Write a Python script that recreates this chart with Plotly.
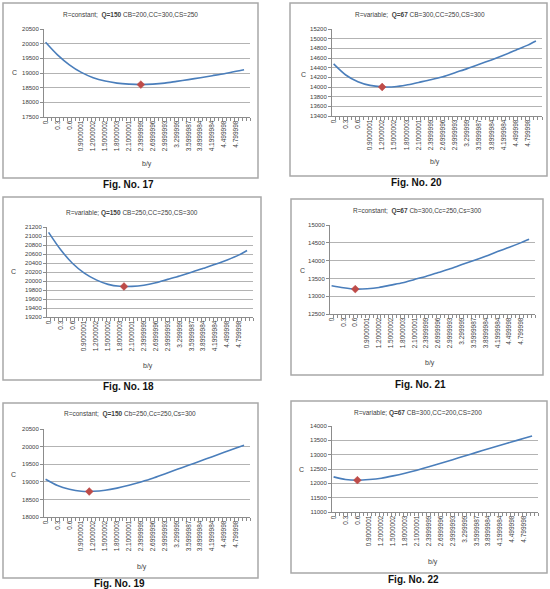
import plotly.graph_objects as go

W, H = 550, 589

# ---------------- data ----------------
b_over_y = [0, 0.3, 0.6, 0.9, 1.2, 1.5, 1.8, 2.1, 2.4, 2.7, 3.0, 3.3, 3.6, 3.9, 4.2, 4.5, 4.8, 5.0]

c_fig17 = [20050, 19620, 19280, 19020, 18840, 18725, 18655, 18620, 18605, 18620, 18655, 18715, 18775, 18840, 18908, 18977, 19057, 19114]
c_fig20 = [14477, 14248, 14109, 14033, 14005, 14005, 14040, 14095, 14150, 14213, 14297, 14380, 14470, 14561, 14658, 14762, 14866, 14950]
c_fig18 = [21081, 20700, 20395, 20175, 20025, 19925, 19882, 19880, 19905, 19961, 20036, 20110, 20193, 20282, 20372, 20469, 20581, 20678]
c_fig21 = [13293, 13237, 13200, 13209, 13246, 13312, 13377, 13470, 13563, 13666, 13769, 13890, 14002, 14123, 14254, 14375, 14505, 14599]
c_fig19 = [19071, 18893, 18789, 18733, 18730, 18760, 18820, 18900, 18995, 19100, 19223, 19346, 19468, 19592, 19714, 19836, 19959, 20040]
c_fig22 = [12226, 12133, 12110, 12133, 12180, 12261, 12355, 12460, 12576, 12700, 12825, 12955, 13080, 13210, 13330, 13450, 13570, 13650]

# optimum points (red markers)
opt_x = [2.4, 1.2, 1.9, 0.6, 1.1, 0.6]
opt_c = [18605, 14000, 19878, 13200, 18724, 12110]

tick_vals = [0, 0.3, 0.6, 0.9, 1.2, 1.5, 1.8, 2.1, 2.4, 2.7, 3.0, 3.3, 3.6, 3.9, 4.2, 4.5, 4.8]
tick_text = ["0", "0.3", "0.6", "0.9000001", "1.2000002", "1.5000002", "1.8000003",
             "2.1000001", "2.3999999", "2.6999996", "2.9999993", "3.299999",
             "3.5999987", "3.8999984", "4.1999984", "4.499998", "4.799998"]

titles = [
    "R=constant;  <b>Q=150</b> CB=200,CC=300,CS=250",
    "R=variable;  <b>Q=67</b> CB=300,CC=250,CS=300",
    "R=variable; <b>Q=150</b> CB=250,CC=250,CS=300",
    "R=constant;  <b>Q=67</b> Cb=300,Cc=250,Cs=300",
    "R=constant;  <b>Q=150</b> Cb=250,Cc=250,Cs=300",
    "R=variable; <b>Q=67</b> CB=300,CC=200,CS=200",
]
captions = ["Fig. No. 17", "Fig. No. 20", "Fig. No. 18", "Fig. No. 21", "Fig. No. 19", "Fig. No. 22"]
y_ranges = [(17500, 20500, 500), (13400, 15200, 200), (19200, 21200, 200),
            (12500, 15000, 500), (18000, 20500, 500), (11000, 14000, 500)]
series = [c_fig17, c_fig20, c_fig18, c_fig21, c_fig19, c_fig22]

# ---------------- layout geometry (pixels) ----------------
plot_px = [(44, 250, 29, 117), (332, 542, 29, 116), (47, 253, 227, 317),
           (330, 535, 225, 314), (44, 250, 429, 517), (332, 538, 426, 512)]
frame_px = [(3, 258, 3, 178), (290, 547, 3, 176), (3, 261, 197, 380),
            (291, 543, 199, 375), (3, 258, 403, 578), (291, 547, 401, 573)]
title_px = [(130, 15), (420, 15), (132, 213), (417, 211), (130, 414), (418, 413)]
caption_px = [(128, 184), (416, 183), (128, 386), (420, 385), (119, 583), (413, 579)]
c_px = [(14, 73), (303, 75), (13, 271), (302, 270), (13, 474), (301, 469)]
by_px = [(147, 164), (435, 162), (148, 366), (430, 363), (142, 567), (433, 562)]

fx = lambda p: p / W
fy = lambda p: 1 - p / H

FONT = "Liberation Sans Narrow, Arial Narrow, Liberation Sans, Arial, sans-serif"
LINE = "#4A7EBB"
RED = "#BE4B48"
GRID = "#B3B3B3"
AXIS = "#8C8C8C"
TXT = "#404040"

fig = go.Figure()
layout = dict(width=W, height=H, margin=dict(l=0, r=0, t=0, b=0),
              paper_bgcolor="white", plot_bgcolor="white", showlegend=False,
              shapes=[], annotations=[])

minor_vals = [round(-0.05 + 0.1 * k, 2) for k in range(53)]

for i in range(6):
    n = "" if i == 0 else str(i + 1)
    xa, ya = "x" + n, "y" + n
    x0, x1, y0, y1 = plot_px[i]
    lo, hi, step = y_ranges[i]
    fig.add_trace(go.Scatter(x=b_over_y, y=series[i], mode="lines", xaxis=xa, yaxis=ya,
                             line=dict(color=LINE, width=1.6, shape="spline", smoothing=0.8),
                             hoverinfo="skip"))
    fig.add_trace(go.Scatter(x=[opt_x[i]], y=[opt_c[i]], mode="markers", xaxis=xa, yaxis=ya,
                             marker=dict(symbol="diamond", size=6, color=RED,
                                         line=dict(color=RED, width=0.5)),
                             hoverinfo="skip"))
    layout["xaxis" + n] = dict(domain=[fx(x0), fx(x1)], anchor=ya, range=[-0.04, 5.15],
                               tickmode="array", tickvals=tick_vals, ticktext=tick_text,
                               tickangle=-90, ticks="", showgrid=False, zeroline=False,
                               showline=True, linecolor=AXIS, linewidth=1,
                               tickfont=dict(family=FONT, size=6.5, color=TXT),
                               minor=dict(tickmode="array", tickvals=minor_vals, ticks="outside",
                                          ticklen=3, tickcolor=AXIS, showgrid=False),
                               automargin=False, fixedrange=True)
    layout["yaxis" + n] = dict(domain=[fy(y1), fy(y0)], anchor=xa, range=[lo, hi],
                               tickmode="linear", tick0=lo, dtick=step, tickformat="d",
                               showgrid=True, gridcolor=GRID, gridwidth=1,
                               zeroline=False, showline=True, linecolor=AXIS, linewidth=1,
                               ticks="outside", ticklen=3, tickcolor=AXIS,
                               tickfont=dict(family=FONT, size=6, color=TXT),
                               automargin=False, fixedrange=True)
    fx0, fx1, fy0, fy1 = frame_px[i]
    layout["shapes"].append(dict(type="rect", xref="paper", yref="paper",
                                 x0=fx(fx0), x1=fx(fx1), y0=fy(fy1), y1=fy(fy0),
                                 line=dict(color="#A8A8A8", width=1.5)))
    tx, ty = title_px[i]
    layout["annotations"].append(dict(text=titles[i], x=fx(tx), y=fy(ty), xref="paper", yref="paper",
                                      showarrow=False, xanchor="center", yanchor="middle",
                                      font=dict(family=FONT, size=6.5, color=TXT)))
    cx, cy = caption_px[i]
    layout["annotations"].append(dict(text="<b>" + captions[i] + "</b>", x=fx(cx), y=fy(cy),
                                      xref="paper", yref="paper", showarrow=False,
                                      xanchor="center", yanchor="middle",
                                      font=dict(family="Liberation Sans, Arial, sans-serif", size=10, color="#111111")))
    ax_, ay_ = c_px[i]
    layout["annotations"].append(dict(text="C", x=fx(ax_), y=fy(ay_), xref="paper", yref="paper",
                                      showarrow=False, xanchor="center", yanchor="middle",
                                      font=dict(family=FONT, size=7, color=TXT)))
    bx, by = by_px[i]
    layout["annotations"].append(dict(text="b/y", x=fx(bx), y=fy(by), xref="paper", yref="paper",
                                      showarrow=False, xanchor="center", yanchor="middle",
                                      font=dict(family=FONT, size=7, color=TXT)))

fig.update_layout(**layout)
fig.write_html("out.html", config={"displayModeBar": False})
